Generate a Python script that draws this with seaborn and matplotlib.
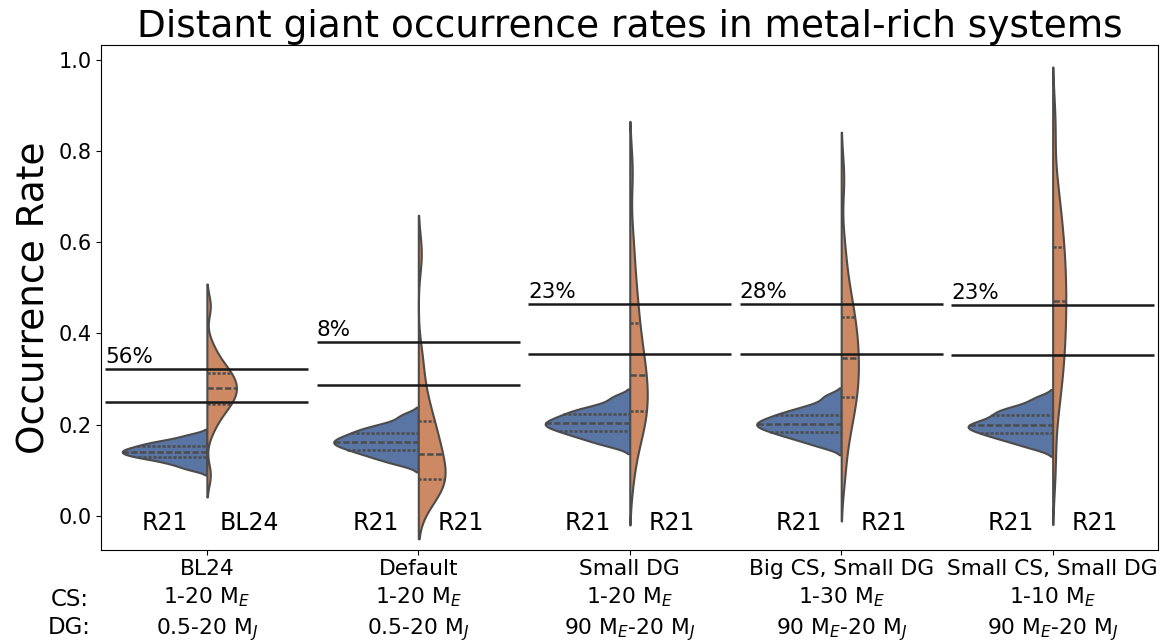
import numpy as np
import pandas as pd
import seaborn as sns
import matplotlib.pyplot as plt

configs = ["BL24", "Default", "Small DG", "Big CS, Small DG", "Small CS, Small DG"]
cs_range = ["1-20 M$_E$", "1-20 M$_E$", "1-20 M$_E$", "1-30 M$_E$", "1-10 M$_E$"]
dg_range = ["0.5-20 M$_J$", "0.5-20 M$_J$", "90 M$_E$-20 M$_J$", "90 M$_E$-20 M$_J$", "90 M$_E$-20 M$_J$"]
left_names = ["R21", "R21", "R21", "R21", "R21"]
right_names = ["BL24", "R21", "R21", "R21", "R21"]
sides = ["observed", "simulated"]

# horizontal reference lines per configuration and the percentages written above them
upper_rate = [0.323, 0.381, 0.464, 0.464, 0.462]
lower_rate = [0.249, 0.286, 0.355, 0.355, 0.353]
pct_labels = ["56%", "8%", "23%", "28%", "23%"]

# occurrence-rate samples
obs_bl24 = [0.103, 0.112, 0.118, 0.123, 0.127, 0.130, 0.133, 0.136, 0.138, 0.141,
            0.144, 0.146, 0.149, 0.152, 0.156, 0.159, 0.163, 0.168, 0.177]
sim_bl24 = [0.090, 0.187, 0.212, 0.226, 0.237, 0.246, 0.253, 0.260, 0.267, 0.274, 0.280,
            0.286, 0.293, 0.300, 0.307, 0.314, 0.323, 0.334, 0.348, 0.373, 0.460]
obs_default = [0.115, 0.125, 0.132, 0.138, 0.143, 0.148, 0.152, 0.156, 0.160, 0.163,
               0.167, 0.171, 0.175, 0.180, 0.185, 0.190, 0.196, 0.204, 0.220]
sim_default = [0.034, 0.046, 0.056, 0.065, 0.074, 0.083, 0.094, 0.105, 0.117, 0.130,
               0.142, 0.155, 0.170, 0.186, 0.204, 0.222, 0.248, 0.285, 0.345, 0.575]
obs_smalldg = [0.155, 0.165, 0.172, 0.178, 0.183, 0.188, 0.192, 0.196, 0.200, 0.203,
               0.207, 0.211, 0.215, 0.220, 0.225, 0.230, 0.236, 0.244, 0.260]
sim_smalldg = [0.090, 0.160, 0.183, 0.203, 0.221, 0.238, 0.256, 0.273, 0.291, 0.309,
               0.329, 0.350, 0.374, 0.405, 0.440, 0.478, 0.528, 0.603, 0.755]
obs_bigcs = [0.153, 0.164, 0.171, 0.177, 0.182, 0.187, 0.191, 0.195, 0.199, 0.202,
             0.206, 0.210, 0.214, 0.219, 0.224, 0.229, 0.236, 0.245, 0.262]
sim_bigcs = [0.090, 0.160, 0.197, 0.224, 0.247, 0.266, 0.284, 0.302, 0.320, 0.337,
             0.355, 0.373, 0.392, 0.411, 0.431, 0.455, 0.483, 0.520, 0.588, 0.740]
obs_smallcs = [0.150, 0.161, 0.168, 0.174, 0.179, 0.184, 0.188, 0.192, 0.196, 0.199,
               0.203, 0.207, 0.212, 0.218, 0.224, 0.229, 0.235, 0.243, 0.258]
sim_smallcs = [0.105, 0.222, 0.272, 0.310, 0.340, 0.366, 0.395, 0.422, 0.447, 0.472,
               0.497, 0.522, 0.548, 0.577, 0.603, 0.636, 0.675, 0.726, 0.860]

observed = [obs_bl24, obs_default, obs_smalldg, obs_bigcs, obs_smallcs]
simulated = [sim_bl24, sim_default, sim_smalldg, sim_bigcs, sim_smallcs]

rows = []
for cfg, obs, sim in zip(configs, observed, simulated):
    rows += [(cfg, sides[0], v) for v in obs]
    rows += [(cfg, sides[1], v) for v in sim]
df = pd.DataFrame(rows, columns=["config", "side", "rate"])

fig, ax = plt.subplots(figsize=(11.76, 6.43), dpi=100)
fig.subplots_adjust(left=0.086, right=0.985, top=0.930, bottom=0.145)

# one call per configuration so the two halves are scaled against each other only
for cfg in configs:
    sns.violinplot(data=df[df["config"] == cfg], x="config", y="rate", hue="side",
                   order=configs, hue_order=sides, split=True, inner="quart",
                   density_norm="area", common_norm=True, bw_adjust=0.6, cut=2,
                   palette="deep", linewidth=1.5, inner_kws={"linewidth": 1.8},
                   legend=False, ax=ax)

for i in range(len(configs)):
    ax.hlines([upper_rate[i], lower_rate[i]], i - 0.48, i + 0.48, color="#1a1a1a", lw=1.8, zorder=5)
    ax.text(i - 0.48, upper_rate[i] + 0.004, pct_labels[i], ha="left", va="bottom", fontsize=15.5)
    ax.text(i - 0.2, -0.016, left_names[i], ha="center", va="center", fontsize=17)
    ax.text(i + 0.2, -0.016, right_names[i], ha="center", va="center", fontsize=17)

ax.set_xlim(-0.5, len(configs) - 0.5)
ax.set_ylim(-0.074, 1.032)
ax.set_xticks(range(len(configs)))
ax.set_xticklabels([f"{c}\n{cs}\n{dg}" for c, cs, dg in zip(configs, cs_range, dg_range)],
                   fontsize=15.7, linespacing=1.35)
ax.tick_params(axis="y", labelsize=15)
ax.set_xlabel("")
ax.set_ylabel("Occurrence Rate", fontsize=27)
ax.set_title("Distant giant occurrence rates in metal-rich systems", fontsize=27)

fig.text(0.059, 1 - 600 / 643, "CS:", ha="center", va="center", fontsize=16.5)
fig.text(0.059, 1 - 627 / 643, "DG:", ha="center", va="center", fontsize=16.5)

plt.savefig("out.png", dpi=100)
